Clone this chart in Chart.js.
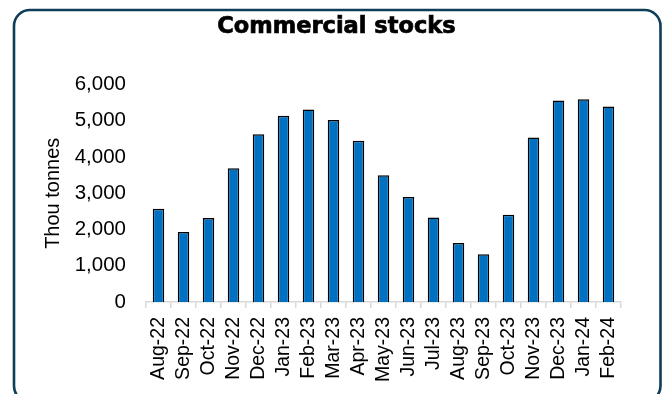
<!DOCTYPE html>
<html>
<head>
<meta charset="utf-8">
<script src="https://cdn.jsdelivr.net/npm/chart.js@4"></script>
<style>
  html, body { margin: 0; padding: 0; background: #ffffff; }
  #wrap { position: relative; width: 666px; height: 394px; overflow: hidden; }
  canvas { display: block; }
</style>
</head>
<body>
<div id="wrap"><canvas id="c" width="666" height="394"></canvas></div>
<script>
// Monthly commercial stocks, thousand tonnes
const months = ['Aug-22','Sep-22','Oct-22','Nov-22','Dec-22','Jan-23','Feb-23','Mar-23','Apr-23','May-23',
                'Jun-23','Jul-23','Aug-23','Sep-23','Oct-23','Nov-23','Dec-23','Jan-24','Feb-24'];
const stocks = [2570, 1930, 2320, 3690, 4630, 5140, 5310, 5020, 4450, 3500,
                2900, 2330, 1630, 1320, 2410, 4540, 5560, 5590, 5390];
const yTicks = [0, 1000, 2000, 3000, 4000, 5000, 6000];
const chartTitle = 'Commercial stocks';

const FONT = "'Liberation Sans', Arial, sans-serif";

// white background, heading, and the rounded outline around the whole chart
const framePlugin = {
  id: 'frame',
  beforeDraw(chart) {
    const ctx = chart.ctx;
    ctx.save();
    ctx.fillStyle = '#ffffff';
    ctx.fillRect(0, 0, chart.width, chart.height);
    ctx.restore();
  },
  afterDraw(chart) {
    const ctx = chart.ctx;
    ctx.save();
    ctx.font = "bold 22.5px 'DejaVu Sans', sans-serif";
    ctx.fillStyle = '#000000';
    ctx.strokeStyle = '#000000';
    ctx.lineWidth = 0.7;
    ctx.textAlign = 'center';
    ctx.textBaseline = 'alphabetic';
    ctx.fillText(chartTitle, 336.5, 33.3);
    ctx.strokeText(chartTitle, 336.5, 33.3);

    ctx.strokeStyle = '#0f3d57';
    ctx.lineWidth = 2.6;
    ctx.beginPath();
    ctx.roundRect(14, 10, 646.5, 392, 16);
    ctx.stroke();
    ctx.restore();
  }
};

new Chart(document.getElementById('c'), {
  type: 'bar',
  data: {
    labels: months,
    datasets: [{
      data: stocks,
      backgroundColor: '#0070c0',
      borderColor: '#000000',
      borderWidth: 1.5,
      categoryPercentage: 1,
      barPercentage: 0.46
    }]
  },
  options: {
    responsive: false,
    animation: false,
    layout: { padding: { left: 0, right: 45, top: 84.5, bottom: 0 } },
    plugins: {
      legend: { display: false },
      tooltip: { enabled: false },
      title: { display: false }
    },
    scales: {
      x: {
        grid: { display: true, drawOnChartArea: false, drawTicks: true, tickLength: 6, color: '#d9d9d9', lineWidth: 1.5 },
        border: { display: true, color: '#d9d9d9', width: 1.5 },
        ticks: {
          color: '#000000',
          font: { family: FONT, size: 19.5 },
          minRotation: 90, maxRotation: 90,
          padding: 9,
          autoSkip: false
        },
        afterFit(scale) { scale.height = 92; }
      },
      y: {
        min: 0, max: 6000,
        afterBuildTicks(scale) { scale.ticks = yTicks.map(v => ({ value: v })); },
        grid: { display: false, drawTicks: false },
        border: { display: false },
        ticks: {
          color: '#000000',
          font: { family: FONT, size: 20.5 },
          padding: 20,
          callback: v => v.toLocaleString('en-US')
        },
        title: {
          display: true,
          text: 'Thou tonnes',
          color: '#000000',
          font: { family: FONT, size: 20, lineHeight: 1.2 },
          padding: { top: 41.5, bottom: 0 }
        },
        afterFit(scale) { scale.width = 146; }
      }
    }
  },
  plugins: [framePlugin]
});
</script>
</body>
</html>
